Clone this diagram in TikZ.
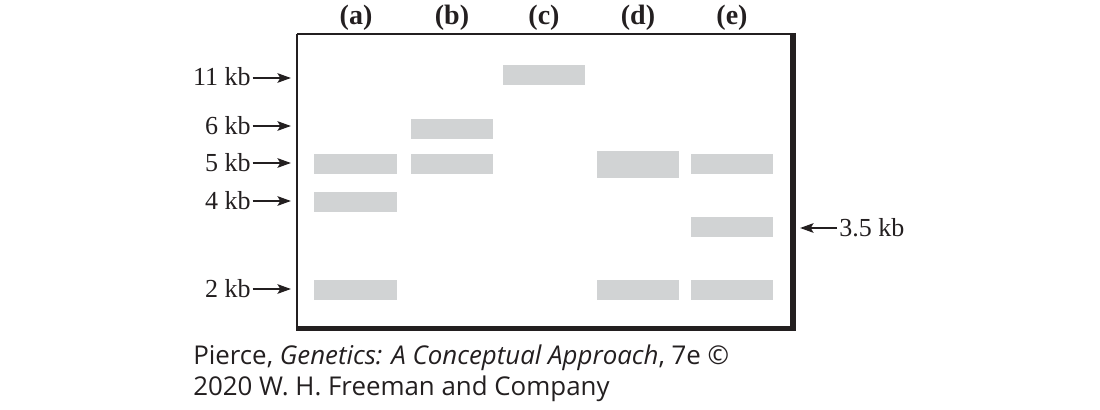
\documentclass[tikz,border=0pt]{standalone}
\usepackage{fontspec}
\setmainfont{Liberation Serif}
\newfontfamily\capfont{Open Sans}
\usetikzlibrary{arrows.meta}
\definecolor{band}{HTML}{D1D3D4}
\definecolor{ink}{HTML}{231F20}
\begin{document}
\begin{tikzpicture}[x=0.75pt,y=-0.75pt,
  bandbox/.style={fill=band,draw=none},
  kblabel/.style={anchor=base east,inner sep=0pt,text=ink,font=\fontsize{19.5}{22}\selectfont},
  kblabelr/.style={anchor=base west,inner sep=0pt,text=ink,font=\fontsize{19.5}{22}\selectfont},
  lanelabel/.style={anchor=base,inner sep=0pt,text=ink,font=\fontsize{21}{24}\selectfont\bfseries},
  markarrow/.style={draw=ink,line width=1.9pt,-{Stealth[length=10pt,width=7pt,inset=2pt]}},
  captext/.style={anchor=base west,inner sep=0pt,text=ink,font=\capfont\fontsize{19.4}{22}\selectfont}
]
\useasboundingbox (0,0) rectangle (1100,410);
% gel box
\draw[ink,line width=1.5pt] (297,34) -- (793,34);
\draw[ink,line width=1.5pt] (297,34) -- (297,328);
\draw[ink,line width=4.5pt] (793,33) -- (793,331);
\draw[ink,line width=4pt] (296,328.5) -- (796,328.5);
% lane labels
\node[lanelabel] (la) at (356,25) {(a)};
\node[lanelabel] (lb) at (452,25) {(b)};
\node[lanelabel] (lc) at (544,25) {(c)};
\node[lanelabel] (ld) at (638,25) {(d)};
\node[lanelabel] (le) at (732,25) {(e)};
% bands
\fill[bandbox] (503,65) rectangle (585,85);   % c 11
\fill[bandbox] (411,119) rectangle (493,139); % b 6
\fill[bandbox] (314,154) rectangle (397,174); % a 5
\fill[bandbox] (411,154) rectangle (493,174); % b 5
\fill[bandbox] (597,150.5) rectangle (679,177.5); % d 5
\fill[bandbox] (691,154) rectangle (773,174); % e 5
\fill[bandbox] (314,192) rectangle (397,212); % a 4
\fill[bandbox] (691,217) rectangle (773,237); % e 3.5
\fill[bandbox] (314,280) rectangle (397,300); % a 2
\fill[bandbox] (597,280) rectangle (679,300); % d 2
\fill[bandbox] (691,280) rectangle (773,300); % e 2
% size labels
\node[kblabel] (k11) at (251,86) {11 kb};
\node[kblabel] (k6) at (251,134) {6 kb};
\node[kblabel] (k5) at (251,171.5) {5 kb};
\node[kblabel] (k4) at (251,209.5) {4 kb};
\node[kblabel] (k2) at (251,297.5) {2 kb};
\node[kblabelr] (k35) at (839,236.5) {3.5 kb};
\coordinate (t11) at (291,78);
\coordinate (t6) at (291,126);
\coordinate (t5) at (291,163);
\coordinate (t4) at (291,201);
\coordinate (t2) at (291,289);
\coordinate (t35) at (800,228);
\draw[markarrow] (k11.east |- t11) ++(1.5,0) -- (t11);
\draw[markarrow] (k6.east |- t6) ++(1.5,0) -- (t6);
\draw[markarrow] (k5.east |- t5) ++(1.5,0) -- (t5);
\draw[markarrow] (k4.east |- t4) ++(1.5,0) -- (t4);
\draw[markarrow] (k2.east |- t2) ++(1.5,0) -- (t2);
\draw[markarrow] (k35.west |- t35) ++(-2,0) -- (t35);
% caption
\node[captext] (cap1) at (193,364) {Pierce, \textit{Genetics: A Conceptual Approach}, 7e ©};
\node[captext] (cap2) at (193,395) {2020 W. H. Freeman and Company};
\end{tikzpicture}
\end{document}
